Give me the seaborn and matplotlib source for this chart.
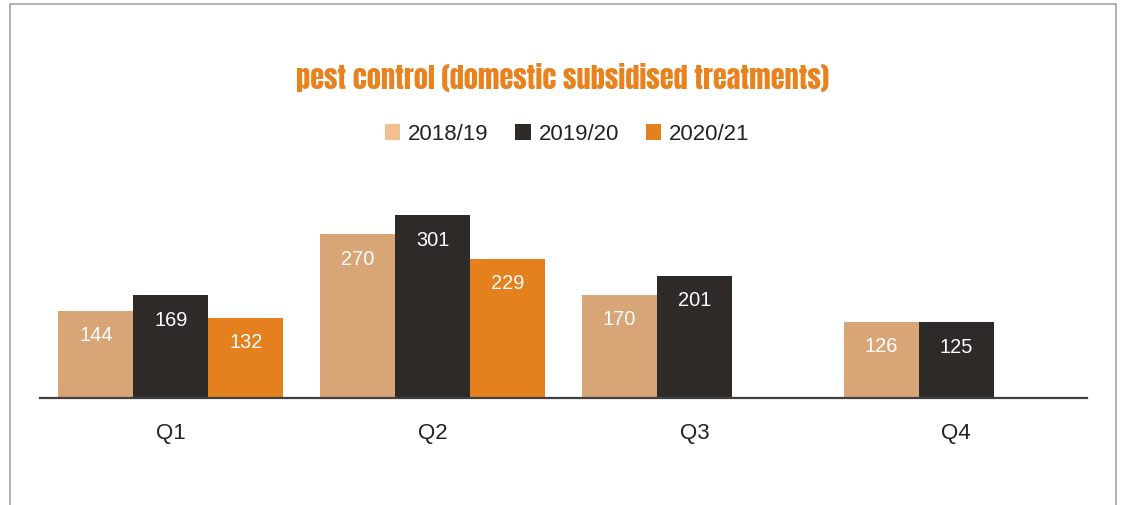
import matplotlib
matplotlib.use("Agg")
import matplotlib.pyplot as plt
import seaborn as sns
import pandas as pd
import numpy as np
from matplotlib.patches import Patch
from matplotlib.lines import Line2D

# ---- data ----
quarters = ["Q1", "Q2", "Q3", "Q4"]
years = ["2018/19", "2019/20", "2020/21"]
v_2018_19 = [144, 270, 170, 126]
v_2019_20 = [169, 301, 201, 125]
v_2020_21 = [132, 229, np.nan, np.nan]
title = "pest control (domestic subsidised treatments)"

bar_colors = ["#D8A676", "#2E2A27", "#E5801E"]
legend_colors = ["#F2C08E", "#2E2A27", "#E5801E"]

rows = []
for yr, vals in zip(years, [v_2018_19, v_2019_20, v_2020_21]):
    for q, v in zip(quarters, vals):
        rows.append({"quarter": q, "year": yr, "value": v})
df = pd.DataFrame(rows)

sns.set_theme(style="white")
plt.rcParams["font.family"] = ["Liberation Sans", "DejaVu Sans"]

W, H = 1123, 506
fig = plt.figure(figsize=(W / 100, H / 100), dpi=100)
ax_left, ax_right = 40 / W, 1087 / W
ax_bottom = (H - 399) / H
ax_top = (H - 170) / H
ax = fig.add_axes([ax_left, ax_bottom, ax_right - ax_left, ax_top - ax_bottom])

sns.barplot(data=df, x="quarter", y="value", hue="year", order=quarters,
            hue_order=years, palette=bar_colors, width=0.86, gap=0,
            ax=ax, legend=False, saturation=1, errorbar=None, linewidth=0)

ax.set_ylim(0, 229 / 0.607)
ax.set_xlim(-0.5, 3.5)
for s in ["top", "right", "left"]:
    ax.spines[s].set_visible(False)
ax.spines["bottom"].set_color("#404040")
ax.spines["bottom"].set_linewidth(1.6)
ax.spines["bottom"].set_zorder(5)
ax.set_yticks([])
ax.set_xlabel("")
ax.set_ylabel("")
ax.tick_params(axis="x", length=0, pad=17, labelsize=16, labelcolor="#222222")

for cont in ax.containers:
    for p in cont.patches:
        h = p.get_height()
        if h is None or np.isnan(h) or h == 0:
            continue
        ax.annotate(f"{int(round(h))}", (p.get_x() + p.get_width() / 2, h),
                    xytext=(0, -24), textcoords="offset pixels",
                    ha="center", va="center", color="white", fontsize=14.4)

# legend
handles = [Patch(facecolor=c, edgecolor="none") for c in legend_colors]
fig.legend(handles, years, loc="center", bbox_to_anchor=(567 / W, 1 - 135 / H),
           ncol=3, frameon=False, fontsize=16, handlelength=0.7, handleheight=0.7,
           handletextpad=0.35, columnspacing=1.2, labelcolor="#222222")

# title, fitted to reference width
t = fig.text(563 / W, 1 - 78 / H, title, ha="center", va="center",
             color="#E8821E", fontsize=20, family=["Anton", "DejaVu Sans"])
fig.canvas.draw()
bb = t.get_window_extent()
t.set_fontsize(20 * 533 / bb.width)

# border frame
border = "#A6A6A6"
fig.add_artist(Line2D([10 / W, 1116 / W], [1 - 5 / H, 1 - 5 / H], color=border, lw=1.2, transform=fig.transFigure))
fig.add_artist(Line2D([10 / W, 10 / W], [0, 1 - 5 / H], color=border, lw=1.2, transform=fig.transFigure))
fig.add_artist(Line2D([1116 / W, 1116 / W], [0, 1 - 5 / H], color=border, lw=1.2, transform=fig.transFigure))

fig.savefig("out.png", dpi=100)
